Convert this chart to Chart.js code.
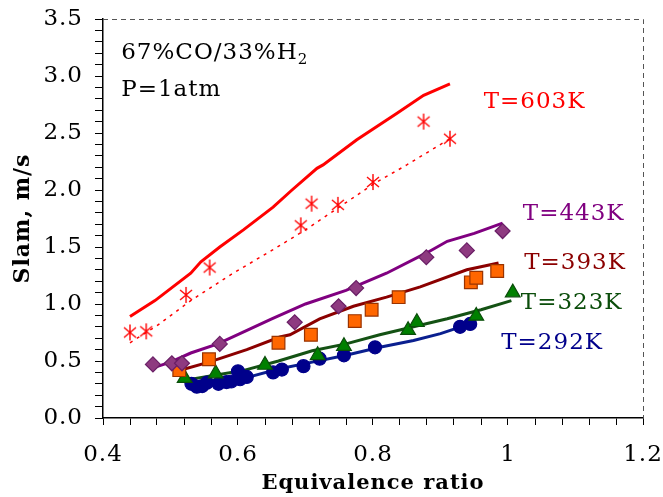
<!DOCTYPE html>
<html>
<head>
<meta charset="utf-8">
<script src="https://cdn.jsdelivr.net/npm/chart.js@4.4.1/dist/chart.umd.min.js"></script>
<style>
  body { margin: 0; background: #fff; }
  canvas { display: block; }
</style>
</head>
<body>
<canvas id="slamChart" width="663" height="497"></canvas>
<script>
// axis ticks
const xTickLabels = ['0.4', '0.6', '0.8', '1', '1.2'];
const yTickLabels = ['0.0', '0.5', '1.0', '1.5', '2.0', '2.5', '3.0', '3.5'];

// T=603K
const t603Line = [[0.44,0.89],[0.477,1.03],[0.53,1.27],[0.545,1.37],[0.573,1.50],[0.608,1.65],[0.652,1.85],[0.68,2.0],[0.717,2.19],[0.726,2.22],[0.776,2.44],[0.835,2.67],[0.875,2.83],[0.914,2.93]];
const t603Fit = [[0.44,0.66],[0.48,0.81],[0.53,1.03],[0.59,1.26],[0.65,1.47],[0.70,1.65],[0.75,1.85],[0.80,2.05],[0.85,2.22],[0.914,2.45]];
const t603Exp = [[0.44,0.75],[0.464,0.76],[0.523,1.08],[0.558,1.32],[0.693,1.69],[0.709,1.88],[0.748,1.87],[0.80,2.07],[0.875,2.60],[0.914,2.45]];

// T=443K
const t443Line = [[0.474,0.44],[0.50,0.49],[0.53,0.57],[0.57,0.65],[0.61,0.76],[0.65,0.87],[0.70,1.00],[0.76,1.12],[0.82,1.27],[0.88,1.45],[0.91,1.55],[0.95,1.62],[0.992,1.71]];
const t443Exp = [[0.474,0.47],[0.502,0.48],[0.517,0.48],[0.573,0.65],[0.684,0.84],[0.749,0.98],[0.775,1.14],[0.879,1.41],[0.939,1.47],[0.992,1.64]];

// T=393K
const t393Line = [[0.509,0.41],[0.557,0.49],[0.613,0.60],[0.662,0.71],[0.677,0.73],[0.721,0.87],[0.771,0.98],[0.82,1.06],[0.87,1.15],[0.939,1.30],[0.986,1.36]];
const t393Exp = [[0.513,0.42],[0.557,0.515],[0.66,0.66],[0.708,0.73],[0.773,0.85],[0.798,0.95],[0.838,1.06],[0.945,1.19],[0.953,1.23],[0.984,1.29]];

// T=323K
const t323Line = [[0.52,0.33],[0.57,0.38],[0.61,0.42],[0.66,0.50],[0.71,0.59],[0.76,0.65],[0.81,0.73],[0.86,0.80],[0.91,0.87],[0.96,0.95],[1.005,1.03]];
const t323Exp = [[0.521,0.35],[0.567,0.39],[0.64,0.465],[0.718,0.55],[0.757,0.63],[0.852,0.77],[0.865,0.84],[0.953,0.895],[1.007,1.10]];

// T=292K
const t292Line = [[0.525,0.29],[0.55,0.30],[0.58,0.32],[0.61,0.35],[0.66,0.43],[0.71,0.49],[0.76,0.55],[0.81,0.62],[0.86,0.68],[0.90,0.74],[0.93,0.80],[0.944,0.83]];
const t292Exp = [[0.531,0.30],[0.539,0.275],[0.547,0.28],[0.554,0.31],[0.571,0.30],[0.583,0.315],[0.590,0.32],[0.600,0.41],[0.603,0.34],[0.613,0.36],[0.652,0.40],[0.665,0.425],[0.697,0.455],[0.721,0.52],[0.757,0.55],[0.803,0.62],[0.929,0.80],[0.944,0.825]];

const pts = arr => arr.map(p => ({x: p[0], y: p[1]}));

// asterisk marker like the excel one (vertical + X)
function makeStar(color) {
    const c = document.createElement('canvas');
    c.width = 16; c.height = 18;
    const g = c.getContext('2d');
    g.strokeStyle = color;
    g.lineWidth = 1.4;
    g.beginPath();
    g.moveTo(8, 1); g.lineTo(8, 17);
    g.moveTo(2, 4); g.lineTo(14, 14);
    g.moveTo(14, 4); g.lineTo(2, 14);
    g.stroke();
    return c;
}
const starImg = makeStar('#ff0000');

function lineSet(data, color, extra) {
    return Object.assign({
        data: pts(data), showLine: true, borderColor: color, borderWidth: 3,
        pointRadius: 0, tension: 0, fill: false, order: 2
    }, extra || {});
}
function markSet(data, style, fillC, edgeC, r) {
    return {
        data: pts(data), showLine: false, pointStyle: style, pointRadius: r,
        backgroundColor: fillC, borderColor: edgeC, borderWidth: 1.2, order: 1
    };
}

// wider spacing to get closer to the bookman look of the original
const spacing = {
    id: 'spacing',
    beforeLayout(chart) { chart.ctx.letterSpacing = '1px'; },
    beforeDraw(chart) { chart.ctx.letterSpacing = '1px'; }
};

const annotations = {
    id: 'annotations',
    afterDraw(chart) {
        const {ctx, chartArea: a, scales} = chart;
        ctx.save();
        // dashed top / right frame
        ctx.strokeStyle = '#555';
        ctx.lineWidth = 1;
        ctx.setLineDash([5, 4]);
        ctx.beginPath();
        ctx.moveTo(a.left, a.top + 0.5); ctx.lineTo(a.right + 0.5, a.top + 0.5);
        ctx.lineTo(a.right + 0.5, a.bottom);
        ctx.stroke();
        ctx.setLineDash([]);

        ctx.letterSpacing = '1px';
        ctx.textBaseline = 'middle';
        ctx.textAlign = 'left';
        ctx.font = '23px "DejaVu Serif"';
        ctx.fillStyle = '#000';
        const tx = scales.x.getPixelForValue(0.427);
        const ty = scales.y.getPixelForValue(3.2);
        ctx.fillText('67%CO/33%H', tx, ty);
        const w = ctx.measureText('67%CO/33%H').width;
        ctx.font = '15px "DejaVu Serif"';
        ctx.fillText('2', tx + w, ty + 7);
        ctx.font = '23px "DejaVu Serif"';
        ctx.fillText('P=1atm', tx, scales.y.getPixelForValue(2.88));

        const labels = [
            ['T=603K', 0.964, 2.77, '#ff0000'],
            ['T=443K', 1.022, 1.79, '#800080'],
            ['T=393K', 1.024, 1.36, '#8b0000'],
            ['T=323K', 1.019, 1.01, '#0b4d0b'],
            ['T=292K', 0.99, 0.66, '#00008b']
        ];
        labels.forEach(l => {
            ctx.fillStyle = l[3];
            ctx.fillText(l[0], scales.x.getPixelForValue(l[1]), scales.y.getPixelForValue(l[2]));
        });
        ctx.restore();
    }
};

Chart.defaults.font.family = '"DejaVu Serif"';
Chart.defaults.color = '#000';

new Chart(document.getElementById('slamChart'), {
    type: 'scatter',
    data: {
        datasets: [
            lineSet(t603Line, '#ff0000'),
            lineSet(t603Fit, '#ff0000', {borderWidth: 1.5, borderDash: [3, 5]}),
            {data: pts(t603Exp), showLine: false, pointStyle: starImg, order: 1},
            lineSet(t443Line, '#800080'),
            markSet(t443Exp, 'rectRot', '#8e3a80', '#6a1f66', 7.5),
            lineSet(t393Line, '#8b0000'),
            markSet(t393Exp, 'rect', '#ff6600', '#993300', 9),
            lineSet(t323Line, '#145214'),
            markSet(t323Exp, 'triangle', '#008000', '#0b4d0b', 8.5),
            lineSet(t292Line, '#0a1f8f'),
            markSet(t292Exp, 'circle', '#00008b', '#00008b', 6.5)
        ]
    },
    options: {
        responsive: false,
        animation: false,
        layout: {padding: {top: 19, right: 20, left: 0, bottom: 0}},
        plugins: {legend: {display: false}, tooltip: {enabled: false}},
        scales: {
            x: {
                type: 'linear', min: 0.4, max: 1.2,
                afterFit: s => { s.height = 79; s.paddingLeft = 0; s.paddingRight = 0; },
                ticks: {
                    stepSize: 0.04, autoSkip: false, maxRotation: 0,
                    font: {size: 23}, padding: 16,
                    callback: v => {
                        const k = Math.round(v * 100);
                        return k % 20 === 0 ? xTickLabels[(k - 40) / 20] : '';
                    }
                },
                grid: {drawOnChartArea: false, drawTicks: true, tickLength: 7, color: '#000'},
                border: {color: '#000', width: 1.5},
                title: {display: true, text: 'Equivalence ratio', font: {size: 21, weight: 'bold'}, padding: {top: 0, bottom: 0.5}}
            },
            y: {
                min: 0, max: 3.5,
                afterFit: s => { s.width = 103; s.paddingTop = 0; s.paddingBottom = 0; },
                ticks: {
                    stepSize: 0.1, autoSkip: false,
                    font: {size: 23}, padding: 12,
                    callback: v => {
                        const k = Math.round(v * 10);
                        return k % 5 === 0 ? yTickLabels[k / 5] : '';
                    }
                },
                grid: {drawOnChartArea: false, drawTicks: true, tickLength: 8, color: '#000'},
                border: {color: '#000', width: 1.5},
                title: {display: true, text: 'Slam, m/s', font: {size: 22, weight: 'bold'}, padding: {top: 10, bottom: 0}}
            }
        }
    },
    plugins: [spacing, annotations]
});
</script>
</body>
</html>
